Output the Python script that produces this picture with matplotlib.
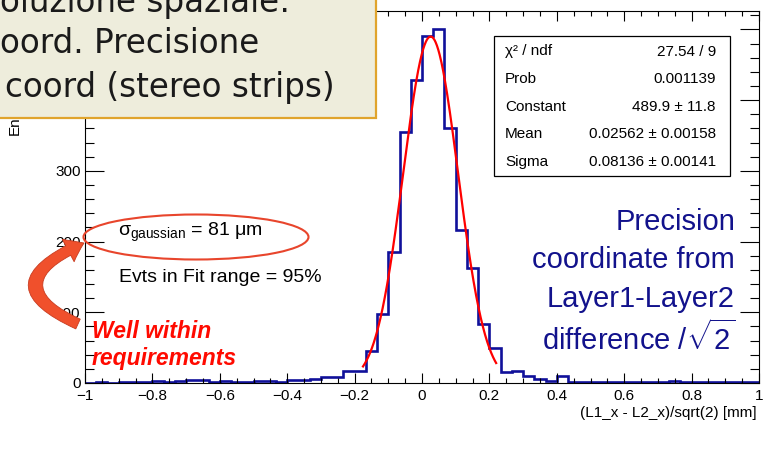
import numpy as np
import matplotlib.pyplot as plt
from matplotlib.patches import Rectangle, Ellipse, FancyArrowPatch
from matplotlib.path import Path
from matplotlib.ticker import MultipleLocator, FuncFormatter

plt.rcParams['font.family'] = 'Liberation Sans'
plt.rcParams['mathtext.fontset'] = 'custom'
plt.rcParams['mathtext.rm'] = 'Liberation Sans'
plt.rcParams['mathtext.it'] = 'Liberation Sans:italic'

W, H = 765, 458

# histogram of (L1_x - L2_x)/sqrt(2), 60 bins over [-1, 1]
x_range = (-1.0, 1.0)
n_bins = 60
counts = [0, 1, 0, 1, 1, 2, 3, 2, 3, 4,
          4, 2, 3, 2, 2, 3, 3, 2, 4, 4,
          6, 9, 8, 17, 17, 45, 98, 185, 355, 428,
          491, 501, 361, 216, 162, 83, 50, 15, 17, 10,
          6, 3, 10, 2, 2, 1, 1, 2, 1, 1,
          2, 1, 3, 2, 1, 1, 2, 1, 2, 1]

# gaussian fit result
fit_const, fit_mean, fit_sigma = 489.9, 0.02562, 0.08136
fit_range = (-0.175, 0.22)

stat_names = ['χ² / ndf', 'Prob', 'Constant', 'Mean', 'Sigma']
stat_values = ['27.54 / 9', '0.001139', '489.9 ± 11.8',
               '0.02562 ± 0.00158', '0.08136 ± 0.00141']

note_lines = ['Precision', 'coordinate from', 'Layer1-Layer2',
              r'difference /$\sqrt{2}$']
slide_lines = ['oluzione spaziale:', 'oord. Precisione',
               'coord (stereo strips)']


def fx(x):
    return x / W


def fy(y):
    return 1 - y / H


def tick_fmt(v, pos):
    v = round(v, 6)
    if v == 0:
        return '0'
    return f'{v:g}'.replace('-', '\u2212')


def ytick_fmt(v, pos):
    # labels above 300 sit under the slide box
    return f'{v:g}' if v <= 300 else ''


fig = plt.figure(figsize=(W / 100, H / 100), dpi=100)
ax = fig.add_axes([fx(85), fy(383), (759 - 85) / W, (383 - 11) / H])

edges = np.linspace(x_range[0], x_range[1], n_bins + 1)
ax.stairs(counts, edges, color='#10109a', lw=1.9)

xf = np.linspace(fit_range[0], fit_range[1], 300)
yf = fit_const * np.exp(-0.5 * ((xf - fit_mean) / fit_sigma) ** 2)
ax.plot(xf, yf, color='#ff0000', lw=1.6)

ax.set_xlim(*x_range)
ax.set_ylim(0, 1.05 * max(counts))

ax.xaxis.set_major_locator(MultipleLocator(0.2))
ax.xaxis.set_minor_locator(MultipleLocator(0.05))
ax.yaxis.set_major_locator(MultipleLocator(100))
ax.yaxis.set_minor_locator(MultipleLocator(20))
ax.xaxis.set_major_formatter(FuncFormatter(tick_fmt))
ax.yaxis.set_major_formatter(FuncFormatter(ytick_fmt))
ax.tick_params(which='both', direction='in', top=True, right=True,
               width=0.8, labelsize=11)
ax.tick_params(axis='x', which='major', length=7.2, pad=4.5)
ax.tick_params(axis='x', which='minor', length=3.6)
ax.tick_params(axis='y', which='major', length=13.5, pad=3)
ax.tick_params(axis='y', which='minor', length=6.8)
for s in ax.spines.values():
    s.set_linewidth(0.8)

fig.text(fx(757), fy(413), '(L1_x - L2_x)/sqrt(2) [mm]', fontsize=11,
         ha='right', va='center')
# y title, mostly hidden by the slide box
fig.text(fx(15), fy(135), 'En', fontsize=11, rotation=90,
         ha='center', va='bottom', zorder=2)

# fit statistics box
fig.patches.append(Rectangle((fx(494), fy(176)), (730 - 494) / W, (176 - 36) / H,
                             transform=fig.transFigure, fc='white', ec='black',
                             lw=0.9, zorder=4))
for i, (name, val) in enumerate(zip(stat_names, stat_values)):
    yy = fy(51.5 + 27.6 * i)
    fig.text(fx(505), yy, name, fontsize=11, ha='left', va='center', zorder=5)
    fig.text(fx(716), yy, val, fontsize=11, ha='right', va='center', zorder=5)

for i, line in enumerate(note_lines):
    fig.text(fx(735), fy(222 + 38.5 * i), line, fontsize=21, color='#12128c',
             ha='right', va='center')

# sigma annotation with red ellipse and curved arrow
fig.text(fx(118), fy(232), r'$\mathrm{\sigma}_{\rm gaussian}$ = 81 μm', fontsize=14,
         ha='left', va='center', zorder=5)
fig.text(fx(119), fy(278), 'Evts in Fit range = 95%', fontsize=14,
         ha='left', va='center', zorder=5)
fig.patches.append(Ellipse((fx(196), fy(237)), 225 / W, 45 / H,
                           transform=fig.transFigure, fill=False,
                           ec='#e8452c', lw=1.5, zorder=5))
arc = Path([(fx(78), fy(324)), (fx(-10), fy(284)), (fx(84), fy(243))],
           [Path.MOVETO, Path.CURVE3, Path.CURVE3])
fig.patches.append(FancyArrowPatch(path=arc, transform=fig.transFigure,
                                   arrowstyle='simple,head_width=1.3,head_length=0.9,tail_width=0.55',
                                   mutation_scale=14, fc='#f0502c', ec='#c83c20',
                                   lw=0.6, zorder=6))
fig.text(fx(92), fy(332), 'Well within', fontsize=16.5, color='#ff0a00',
         fontweight='bold', fontstyle='italic', ha='left', va='center', zorder=6)
fig.text(fx(92), fy(358), 'requirements', fontsize=16.5, color='#ff0a00',
         fontweight='bold', fontstyle='italic', ha='left', va='center', zorder=6)

# slide text box on top
fig.patches.append(Rectangle((fx(-5), fy(118)), 381 / W, 125 / H,
                             transform=fig.transFigure, fc='#eeeddc',
                             ec='#e0a42c', lw=1.6, zorder=10))
for x0, yb, line in zip([0, 0, 5], [12, 53, 97], slide_lines):
    fig.text(fx(x0), fy(yb), line, fontsize=23.5, family='DejaVu Sans',
             color='#1a1a1a', ha='left', va='baseline', zorder=11)

fig.savefig('out.png', dpi=100)
